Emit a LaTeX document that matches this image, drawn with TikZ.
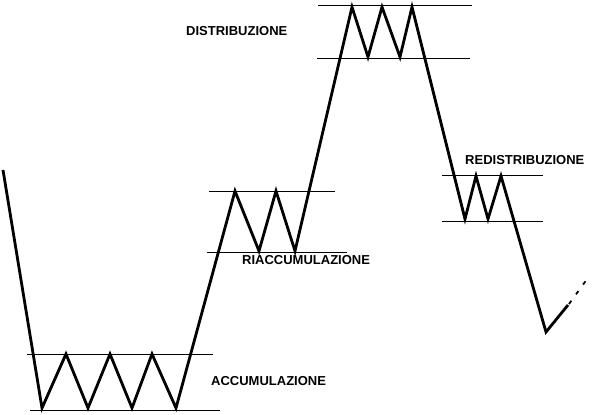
\documentclass[tikz,border=0pt]{standalone}
\usepackage{fontspec}
\setmainfont{Liberation Sans}
\begin{document}
\begin{tikzpicture}[x=1pt,y=-1pt,
  price/.style={line width=2.8pt,line join=miter,line cap=butt},
  band/.style={line width=1pt},
  lbl/.style={anchor=west,inner sep=0pt,font=\fontsize{13}{14}\selectfont\bfseries}]
\fill[white] (0,0) rectangle (600,415);
\useasboundingbox (0,0) rectangle (600,415);
% bands
\draw[band] (27,354) -- (213,354);
\draw[band] (30,410) -- (220,410);
\draw[band] (209,191) -- (335,191);
\draw[band] (207,252) -- (347,252);
\draw[band] (318,5) -- (472,5);
\draw[band] (317,58) -- (470,58);
\draw[band] (442,175) -- (543,175);
\draw[band] (442,221) -- (543,221);
% price path
\draw[price] (3,170) -- (42,408) -- (66,354) -- (88,408) -- (110,354) -- (132,408) -- (152,354) -- (176,408)
  -- (235,191) -- (259,251) -- (276,191) -- (295,251)
  -- (352,7) -- (368,57) -- (382,7) -- (400,57) -- (412,7)
  -- (465,219) -- (476,176) -- (488,219) -- (501,176)
  -- (546,332) -- (568,305);
\draw[line width=1.8pt,dash pattern=on 4pt off 8pt] (569,304) -- (590,275);
% labels
\node[lbl] (d) at (186,31) {DISTRIBUZIONE};
\node[lbl] (r) at (242,260) {RIACCUMULAZIONE};
\node[lbl] (a) at (211,381) {ACCUMULAZIONE};
\node[lbl] (rd) at (465,160) {REDISTRIBUZIONE};
\end{tikzpicture}
\end{document}
